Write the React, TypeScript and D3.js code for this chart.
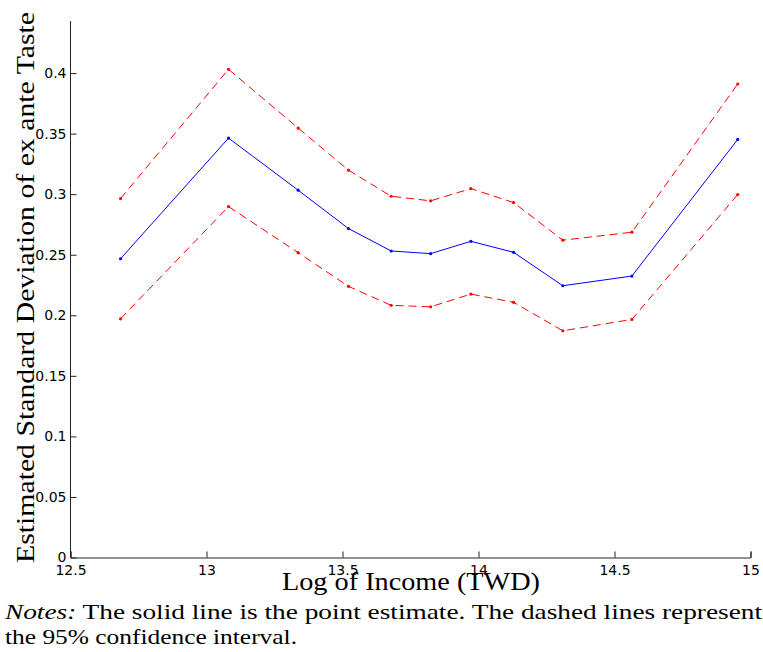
import React, { useEffect, useRef } from 'react';
import * as d3 from 'd3';

// log income bins
const logIncome = [12.684, 13.081, 13.337, 13.522, 13.679, 13.824, 13.972, 14.129, 14.310, 14.564, 14.953];
const estimate = [0.2467, 0.3463, 0.3033, 0.2716, 0.2531, 0.2509, 0.2611, 0.2520, 0.2244, 0.2324, 0.3452];
const upperCI = [0.2964, 0.4031, 0.3546, 0.3198, 0.2983, 0.2945, 0.3046, 0.2931, 0.2620, 0.2686, 0.3910];
const lowerCI = [0.1971, 0.2898, 0.2517, 0.2239, 0.2082, 0.2070, 0.2175, 0.2107, 0.1872, 0.1966, 0.2997];
const xTicks = [12.5, 13, 13.5, 14, 14.5, 15];
const yTicks = [0, 0.05, 0.1, 0.15, 0.2, 0.25, 0.3, 0.35, 0.4];

const App = () => {
  const svgRef = useRef<SVGSVGElement>(null);

  useEffect(() => {
    const svg = d3.select(svgRef.current);
    svg.selectAll('*').remove();

    const x = d3.scaleLinear().domain([12.5, 15]).range([70.5, 750.5]);
    const y = d3.scaleLinear().domain([0, 0.443]).range([557.5, 21]);

    const tickFont = "'DejaVu Sans', 'Liberation Sans', sans-serif";
    const serif = "'Liberation Serif', 'Times New Roman', serif";

    // axes, matlab style: ticks pointing inward
    const xAxis = svg.append('g').attr('transform', `translate(0,${y(0)})`)
      .call(d3.axisBottom(x).tickValues(xTicks).tickSize(-6).tickPadding(8).tickFormat(d3.format('')) as any);
    xAxis.select('.domain').attr('stroke', '#222');
    xAxis.selectAll('.tick line').attr('stroke', '#222');
    xAxis.selectAll('text').style('font-family', tickFont).style('font-size', '14px').attr('fill', '#000');

    const yAxis = svg.append('g').attr('transform', `translate(${x(12.5)},0)`)
      .call(d3.axisLeft(y).tickValues(yTicks).tickSize(-6).tickPadding(4).tickFormat(d3.format('')) as any);
    yAxis.select('.domain').attr('stroke', '#222').attr('d', `M-0,${y(0.443)}V${y(0)}`);
    yAxis.selectAll('.tick line').attr('stroke', '#222');
    yAxis.selectAll('text').style('font-family', tickFont).style('font-size', '14px').attr('fill', '#000');

    const line = d3.line<[number, number]>().x(d => x(d[0])).y(d => y(d[1]));
    const series = [
      { vals: upperCI, color: '#ff0000', dash: '8,5' },
      { vals: lowerCI, color: '#ff0000', dash: '8,5' },
      { vals: estimate, color: '#0000ff', dash: null },
    ];

    series.forEach(s => {
      const pts = logIncome.map((v, i) => [v, s.vals[i]] as [number, number]);
      svg.append('path')
        .attr('d', line(pts))
        .attr('fill', 'none')
        .attr('stroke', s.color)
        .attr('stroke-width', 1)
        .attr('stroke-dasharray', s.dash);
      svg.append('g').selectAll('circle')
        .data(pts)
        .enter()
        .append('circle')
        .attr('cx', d => x(d[0]))
        .attr('cy', d => y(d[1]))
        .attr('r', 1.6)
        .attr('fill', s.color);
    });

    // labels
    svg.append('text')
      .attr('x', 411).attr('y', 590)
      .attr('text-anchor', 'middle')
      .style('font-family', serif).style('font-size', '25px')
      .attr('textLength', 258).attr('lengthAdjust', 'spacingAndGlyphs')
      .text('Log of Income (TWD)');

    svg.append('text')
      .attr('transform', 'translate(34,287.5) rotate(-90)')
      .attr('text-anchor', 'middle')
      .style('font-family', serif).style('font-size', '25px')
      .attr('textLength', 551).attr('lengthAdjust', 'spacingAndGlyphs')
      .text('Estimated Standard Deviation of ex ante Taste');

    const note1 = svg.append('text')
      .attr('x', 5).attr('y', 619)
      .style('font-family', serif).style('font-size', '21px')
      .attr('textLength', 757).attr('lengthAdjust', 'spacingAndGlyphs');
    note1.append('tspan').attr('font-style', 'italic').text('Notes:');
    note1.append('tspan').text(' The solid line is the point estimate. The dashed lines represent');

    svg.append('text')
      .attr('x', 5).attr('y', 644)
      .style('font-family', serif).style('font-size', '21px')
      .attr('textLength', 292).attr('lengthAdjust', 'spacingAndGlyphs')
      .text('the 95% confidence interval.');
  }, []);

  return (
    <svg ref={svgRef} width={763} height={652}
      style={{ position: 'absolute', left: 0, top: 0, background: '#fff' }} />
  );
};

export default App;
